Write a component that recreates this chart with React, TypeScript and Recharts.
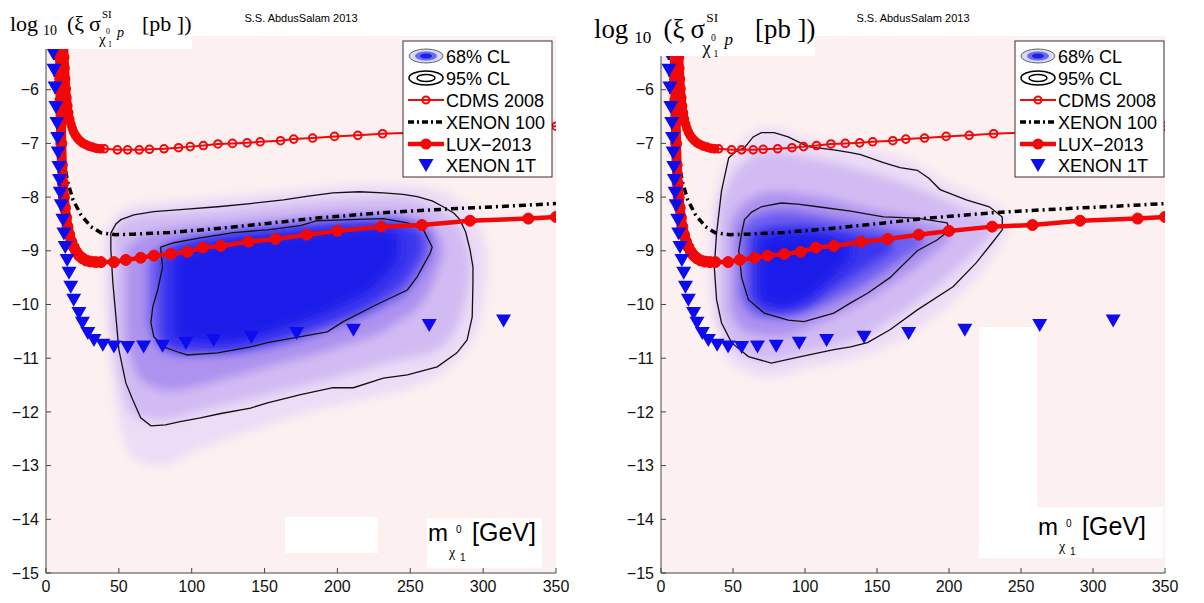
import React from "react"
import {
  Area,
  CartesianGrid,
  ComposedChart,
  Line,
  Scatter,
  XAxis,
  YAxis,
} from "recharts"

type Pt = [number, number]
type Slice = [number, number, number]

const SANS = "'Liberation Sans', Arial, Helvetica, sans-serif"
const SERIF = "'Liberation Serif', 'Times New Roman', serif"
const RED = "#f20808"
const BLUE = "#0c0cef"

const xTicks = [0, 50, 100, 150, 200, 250, 300, 350]
const yTicks = [-15, -14, -13, -12, -11, -10, -9, -8, -7, -6, -5]
const legendLabels = ["68% CL", "95% CL", "CDMS 2008", "XENON 100", "LUX\u22122013", "XENON 1T"]

// [neutralino mass (GeV), log10 sigma_SI (pb)]
const cdms2008: Pt[] = [
  [12.3, -5.0], [12.5, -5.2], [12.8, -5.4], [13.1, -5.6], [13.5, -5.8], [13.9, -5.98],
  [14.4, -6.15], [15.0, -6.3], [15.6, -6.43], [16.3, -6.55], [17.1, -6.64], [18.0, -6.72],
  [19.0, -6.79], [20.2, -6.85], [21.6, -6.9], [23.2, -6.95], [25.0, -6.99], [27.0, -7.02],
  [29.3, -7.05], [31.8, -7.07], [34.5, -7.09], [37.2, -7.1], [40, -7.1], [49, -7.12],
  [56, -7.12], [64, -7.12], [71, -7.11], [81, -7.1], [91, -7.08], [99, -7.06], [108, -7.04],
  [118, -7.01], [128, -7.0], [138, -6.99], [147, -6.97], [161, -6.95], [170, -6.92],
  [183, -6.9], [198, -6.87], [214, -6.85], [231, -6.82], [250, -6.8], [268, -6.78],
  [285, -6.76], [304, -6.74], [325, -6.71], [350, -6.68],
]

const xenon100: Pt[] = [
  [5.5, -5.0], [6.5, -5.8], [8, -6.5], [9.5, -6.95], [11, -7.2], [13, -7.45], [15, -7.73],
  [18.5, -8.05], [24, -8.33], [30.8, -8.55], [37.7, -8.665], [48, -8.7], [60, -8.69],
  [85, -8.66], [120, -8.58], [152, -8.49], [186, -8.39], [231, -8.29], [277, -8.22],
  [323, -8.16], [350, -8.12],
]

const lux2013: Pt[] = [
  [9.6, -5.0], [9.7, -5.4], [9.8, -5.8], [10.0, -6.2], [10.2, -6.6], [10.5, -7.0],
  [10.9, -7.4], [11.6, -7.75], [12.3, -8.0], [13.0, -8.2], [13.8, -8.38], [14.8, -8.55],
  [16.0, -8.7], [17.4, -8.83], [19.0, -8.93], [20.8, -9.02], [22.8, -9.09], [25.0, -9.14],
  [27.5, -9.18], [30.5, -9.2], [34, -9.21], [37.7, -9.21], [46.6, -9.21], [54.8, -9.17],
  [65, -9.13], [74, -9.09], [85.6, -9.06], [97, -9.02], [107.5, -8.94], [120, -8.91],
  [139, -8.83], [157.5, -8.78], [179, -8.7], [200, -8.63], [230, -8.55], [258, -8.52],
  [291, -8.44], [331, -8.4], [350, -8.37],
]

// the steep low-mass parts, where the markers pile into a solid band
const cdmsSteep = cdms2008.slice(0, 23)
const luxSteep = lux2013.slice(0, 22)

const xenon1T: Pt[] = [
  [4.8, -5.31], [5.5, -5.63], [6.2, -5.96], [6.8, -6.32], [7.5, -6.62], [8, -6.9],
  [8.4, -7.17], [8.9, -7.44], [9.3, -7.68], [9.8, -7.92], [10.5, -8.15], [11.6, -8.42],
  [12.3, -8.68], [13.2, -8.93], [14.5, -9.17], [15.8, -9.41], [17, -9.67], [19, -9.91],
  [22.6, -10.16], [25, -10.34], [28.7, -10.53], [32.9, -10.66], [39, -10.75], [46.6, -10.78],
  [56, -10.79], [67, -10.78], [80, -10.77], [96, -10.71], [115, -10.66], [141, -10.6],
  [172, -10.53], [211, -10.47], [263, -10.38], [314, -10.3],
]

// left panel: 95% and 68% CL contours
const c95Left: Pt[] = [
  [44.5, -8.67], [48, -8.5], [51.4, -8.42], [60.3, -8.33], [74, -8.27], [94.5, -8.23],
  [117.8, -8.18], [140.4, -8.12], [163, -8.05], [180, -7.98], [197, -7.92], [215, -7.9],
  [231.5, -7.92], [245, -7.95], [254.8, -7.99], [265, -8.07], [272.6, -8.18], [280, -8.3],
  [284, -8.42], [288, -8.65], [291, -8.98], [293, -9.3], [293, -9.6], [292.5, -10.23],
  [289, -10.66], [282, -10.9], [268.5, -11.16], [248, -11.31], [231.5, -11.37], [211, -11.55],
  [197, -11.55], [174.7, -11.68], [152, -11.83], [140.4, -11.93], [120, -12.03], [106, -12.11],
  [92, -12.18], [82, -12.24], [72, -12.26], [65, -12.11], [59.6, -11.78], [54.8, -11.46],
  [50, -10.84], [48, -10.23], [45.9, -9.6], [44.5, -8.98],
]

const c68Left: Pt[] = [
  [78.8, -8.93], [87.7, -8.85], [106, -8.76], [128.8, -8.66], [152, -8.61], [174.7, -8.53],
  [186, -8.44], [209, -8.42], [231.5, -8.4], [248, -8.48], [259, -8.61], [265, -8.93],
  [263.7, -9.04], [254.8, -9.48], [248, -9.73], [227, -10.0], [204, -10.32], [193, -10.51],
  [174.7, -10.6], [152, -10.71], [140.4, -10.79], [117.8, -10.9], [97, -10.94], [90, -10.88],
  [80.8, -10.79], [74, -10.6], [72, -10.34], [73.3, -10.04], [76.7, -9.73], [80, -9.3],
  [78.8, -8.98],
]

// right panel contours
const c95Right: Pt[] = [
  [37, -9.3], [38.6, -8.67], [42, -7.89], [47, -7.27], [52, -7.15], [58, -7.08],
  [60.7, -6.99], [64, -6.88], [69.7, -6.8], [78.6, -6.8], [88.3, -6.88], [102, -7.06],
  [120, -7.12], [131.7, -7.17], [138.6, -7.21], [154.5, -7.36], [166, -7.45], [178, -7.5],
  [186, -7.65], [193.8, -7.86], [212, -8.05], [228, -8.18], [237, -8.37], [237, -8.61],
  [230, -8.85], [219, -9.22], [202.8, -9.67], [178, -10.1], [159, -10.47], [143.4, -10.71],
  [131.7, -10.79], [120, -10.84], [97, -10.97], [76.6, -11.09], [60.7, -10.97], [49, -10.71],
  [42, -10.34], [38.6, -9.91],
]

const c68Right: Pt[] = [
  [54, -9.0], [56, -8.67], [58, -8.42], [63, -8.28], [69.7, -8.18], [83.4, -8.11],
  [95, -8.13], [109, -8.18], [131.7, -8.26], [154.5, -8.37], [178, -8.39], [198.6, -8.48],
  [200.7, -8.61], [191.7, -8.8], [178, -9.0], [159, -9.5], [143.4, -9.79], [131.7, -9.97],
  [120, -10.16], [99.3, -10.32], [88.3, -10.29], [71.7, -10.16], [60.7, -9.91], [56, -9.5],
]

// posterior density shading, faint -> core: [mass, low, high]
const densityColors = ["#ecdcf6", "#d2bbf3", "#ad92ef", "#6f5ff0", "#3a36ee", "#1e1eea"]

const densityLeft: Slice[][] = [
  [[40, -9.8, -8.7], [45, -11.2, -8.45], [52, -12.4, -8.25], [62, -12.9, -8.15], [78, -13.0, -8.1],
    [100, -12.75, -8.05], [140, -12.35, -7.95], [180, -12.0, -7.85], [220, -11.75, -7.75],
    [255, -11.5, -7.8], [280, -11.1, -8.0], [297, -10.4, -8.5], [303, -9.5, -9.0]],
  [[46, -10.4, -8.75], [52, -11.5, -8.45], [62, -12.1, -8.35], [80, -12.15, -8.3], [110, -11.95, -8.25],
    [150, -11.7, -8.15], [200, -11.35, -8.05], [240, -11.05, -8.0], [268, -10.85, -8.2],
    [284, -10.3, -8.55], [291, -9.5, -9.1]],
  [[55, -10.6, -8.95], [65, -11.4, -8.75], [85, -11.6, -8.6], [120, -11.4, -8.5], [160, -11.1, -8.4],
    [200, -10.8, -8.3], [240, -10.35, -8.3], [262, -9.8, -8.45], [272, -9.1, -8.85]],
  [[70, -10.4, -9.2], [80, -10.85, -8.92], [100, -10.95, -8.76], [130, -10.9, -8.63], [160, -10.75, -8.55],
    [200, -10.4, -8.43], [230, -10.05, -8.4], [250, -9.7, -8.47], [264, -9.1, -8.7]],
  [[78, -10.6, -9.1], [90, -10.85, -8.9], [120, -10.85, -8.72], [160, -10.65, -8.6], [200, -10.3, -8.5],
    [230, -9.9, -8.47], [250, -9.4, -8.55], [258, -9.0, -8.7]],
  [[88, -10.6, -9.1], [120, -10.7, -8.85], [160, -10.45, -8.72], [200, -10.05, -8.62], [228, -9.6, -8.6],
    [242, -9.15, -8.7]],
]

const densityRight: Slice[][] = [
  [[34, -9.7, -8.8], [40, -10.6, -7.8], [52, -11.15, -7.1], [75, -11.35, -6.7], [100, -11.2, -6.9],
    [140, -10.95, -7.1], [170, -10.6, -7.3], [200, -10.0, -7.75], [225, -9.3, -8.05], [242, -8.6, -8.35]],
  [[40, -10.2, -8.2], [52, -10.85, -7.5], [75, -11.05, -7.15], [100, -10.9, -7.25], [140, -10.6, -7.5],
    [175, -10.0, -7.8], [205, -9.35, -8.15], [230, -8.7, -8.45]],
  [[48, -10.1, -8.5], [58, -10.5, -8.1], [80, -10.6, -7.9], [110, -10.35, -8.0], [140, -9.95, -8.2],
    [175, -9.35, -8.4], [200, -8.8, -8.6]],
  [[55, -9.85, -8.6], [65, -10.2, -8.35], [85, -10.25, -8.25], [110, -10.05, -8.35], [140, -9.65, -8.5],
    [165, -9.2, -8.62], [182, -8.9, -8.72]],
  [[62, -9.85, -8.7], [75, -10.15, -8.55], [95, -10.1, -8.52], [118, -9.75, -8.6], [140, -9.35, -8.7],
    [160, -9.0, -8.78]],
  [[68, -9.9, -8.8], [85, -10.05, -8.68], [100, -9.9, -8.68], [118, -9.5, -8.76], [132, -9.1, -8.88]],
]

const toPts = (a: Pt[]) => a.map(([x, y]) => ({ x, y }))
const toBand = (a: Slice[]) => a.map(([x, lo, hi]) => ({ x, band: [lo, hi] }))
// the -5 label sits under the y-axis title box in the figure
const fmtY = (v: number) => (v === -5 ? "" : v < 0 ? "\u2212" + Math.abs(v) : String(v))

function Tri(props: any) {
  const { cx, cy } = props
  if (cx == null || cy == null) return null
  return (
    <polygon
      points={`${cx - 7.5},${cy - 6} ${cx + 7.5},${cy - 6} ${cx},${cy + 7}`}
      fill={BLUE}
    />
  )
}

function Panel({ id, left, plotLeft, plotRight, density, c95, c68 }: any) {
  const tick = { fill: "#111", fontSize: 16, fontFamily: SANS }
  return (
    <div style={{ position: "absolute", left, top: 0 }}>
      <ComposedChart
        width={600}
        height={603}
        margin={{ top: 36, right: 600 - plotRight, bottom: 0, left: plotLeft - 30 }}
      >
        <defs>
          <filter id={`soft-${id}`} x="-50%" y="-50%" width="200%" height="200%">
            <feGaussianBlur stdDeviation="5" />
          </filter>
        </defs>
        <CartesianGrid fill="#fcf0f0" horizontal={false} vertical={false} />
        <XAxis
          type="number"
          dataKey="x"
          domain={[0, 350]}
          ticks={xTicks}
          interval={0}
          allowDataOverflow
          height={30}
          tickSize={-5}
          tickMargin={13}
          stroke="#444"
          tick={tick}
        />
        <XAxis
          xAxisId="top"
          orientation="top"
          type="number"
          domain={[0, 350]}
          ticks={xTicks}
          interval={0}
          height={0}
          tickSize={-5}
          tick={false}
          stroke="#444"
        />
        <YAxis
          type="number"
          dataKey="y"
          domain={[-15, -5]}
          ticks={yTicks}
          interval={0}
          allowDataOverflow
          width={30}
          tickSize={-5}
          tickMargin={12}
          stroke="#444"
          tick={tick}
          tickFormatter={fmtY}
        />
        <YAxis
          yAxisId="right"
          orientation="right"
          type="number"
          domain={[-15, -5]}
          ticks={yTicks}
          interval={0}
          width={0}
          tickSize={-5}
          tick={false}
          stroke="#444"
        />
        {density.map((slices: Slice[], i: number) => (
          <Area
            key={i}
            data={toBand(slices)}
            dataKey="band"
            type="monotone"
            stroke="none"
            fill={densityColors[i]}
            fillOpacity={1}
            filter={`url(#soft-${id})`}
            isAnimationActive={false}
          />
        ))}
        <Line data={toPts(c95)} dataKey="y" type="linearClosed" stroke="#111" strokeWidth={1.3} dot={false} isAnimationActive={false} />
        <Line data={toPts(c68)} dataKey="y" type="linearClosed" stroke="#111" strokeWidth={1.3} dot={false} isAnimationActive={false} />
        <Line data={toPts(cdmsSteep)} dataKey="y" type="linear" stroke={RED} strokeWidth={8} dot={false} isAnimationActive={false} />
        <Line
          data={toPts(cdms2008)}
          dataKey="y"
          type="linear"
          stroke={RED}
          strokeWidth={2}
          dot={{ r: 3.8, fill: "none", stroke: RED, strokeWidth: 2 }}
          isAnimationActive={false}
        />
        <Line
          data={toPts(xenon100)}
          dataKey="y"
          type="linear"
          stroke="#000"
          strokeWidth={3.5}
          strokeDasharray="7 4 2 4"
          dot={false}
          isAnimationActive={false}
        />
        <Line data={toPts(luxSteep)} dataKey="y" type="linear" stroke={RED} strokeWidth={10} dot={false} isAnimationActive={false} />
        <Line
          data={toPts(lux2013)}
          dataKey="y"
          type="linear"
          stroke={RED}
          strokeWidth={4.5}
          dot={{ r: 5.5, fill: RED, stroke: RED, strokeWidth: 1 }}
          isAnimationActive={false}
        />
        <Scatter data={toPts(xenon1T)} shape={Tri} isAnimationActive={false} />
      </ComposedChart>
    </div>
  )
}

function LegendBox({ x }: { x: number }) {
  const rows = [56, 78, 100, 122, 144, 165]
  const cx = x + 23
  return (
    <g>
      <rect x={x} y={41} width={149} height={136} fill="#fff" stroke="#333" strokeWidth={1} />
      <ellipse cx={cx} cy={rows[0]} rx={17} ry={7} fill="#d8d8f6" stroke="#666" strokeWidth={1} />
      <ellipse cx={cx} cy={rows[0]} rx={11} ry={4.5} fill="#6a6af0" />
      <ellipse cx={cx} cy={rows[0]} rx={6} ry={2.5} fill="#2020e0" />
      <ellipse cx={cx} cy={rows[1]} rx={17} ry={7} fill="none" stroke="#000" strokeWidth={1.5} />
      <ellipse cx={cx} cy={rows[1]} rx={9} ry={3.5} fill="none" stroke="#000" strokeWidth={1.5} />
      <line x1={x + 5} x2={x + 41} y1={rows[2]} y2={rows[2]} stroke={RED} strokeWidth={2} />
      <circle cx={cx} cy={rows[2]} r={3.5} fill="none" stroke={RED} strokeWidth={2} />
      <line x1={x + 5} x2={x + 41} y1={rows[3]} y2={rows[3]} stroke="#000" strokeWidth={3.5} strokeDasharray="6 3 2 3" />
      <line x1={x + 5} x2={x + 41} y1={rows[4]} y2={rows[4]} stroke={RED} strokeWidth={4.5} />
      <circle cx={cx} cy={rows[4]} r={5.5} fill={RED} />
      <polygon points={`${cx - 7.5},${rows[5] - 6} ${cx + 7.5},${rows[5] - 6} ${cx},${rows[5] + 7}`} fill={BLUE} />
      {legendLabels.map((t, i) => (
        <text key={t} x={x + 43} y={rows[i] + 6.5} fontSize={18} fontFamily={SANS} fill="#000">
          {t}
        </text>
      ))}
    </g>
  )
}

function YLabel({ x0, s }: { x0: number; s: number }) {
  const X = (d: number) => x0 + d * s
  return (
    <text fontFamily={SERIF} fill="#000" fontSize={22 * s}>
      <tspan x={X(0)} y={31 * s}>log</tspan>
      <tspan x={X(33)} y={35 * s} fontSize={14 * s}>10</tspan>
      <tspan x={X(57)} y={31 * s}>(ξ</tspan>
      <tspan x={X(79)} y={31 * s}>σ</tspan>
      <tspan x={X(92)} y={18 * s} fontSize={11 * s}>SI</tspan>
      <tspan x={X(89)} y={44 * s} fontSize={15 * s}>χ</tspan>
      <tspan x={X(96)} y={34 * s} fontSize={8 * s}>0</tspan>
      <tspan x={X(98)} y={47 * s} fontSize={8 * s}>1</tspan>
      <tspan x={X(107)} y={37 * s} fontSize={14 * s} fontStyle="italic">p</tspan>
      <tspan x={X(132)} y={31 * s}>[pb ])</tspan>
    </text>
  )
}

function XLabel({ x0, base }: { x0: number; base: number }) {
  return (
    <text fontFamily={SANS} fill="#000" fontSize={24}>
      <tspan x={x0} y={base}>m</tspan>
      <tspan x={x0 + 21} y={base + 16} fontSize={14} fontFamily={SERIF}>χ</tspan>
      <tspan x={x0 + 28} y={base - 8} fontSize={10}>0</tspan>
      <tspan x={x0 + 32} y={base + 20} fontSize={10}>1</tspan>
      <tspan x={x0 + 44} y={base} fontSize={25}>[GeV]</tspan>
    </text>
  )
}

export default function App() {
  return (
    <div
      style={{
        position: "absolute",
        left: 0,
        top: 0,
        width: 1204,
        height: 603,
        background: "#fff",
        overflow: "hidden",
      }}
    >
      <Panel id="L" left={0} plotLeft={46} plotRight={556} density={densityLeft} c95={c95Left} c68={c68Left} />
      <Panel id="R" left={604} plotLeft={57} plotRight={561} density={densityRight} c95={c95Right} c68={c68Right} />
      <svg
        width={1204}
        height={603}
        style={{ position: "absolute", left: 0, top: 0, pointerEvents: "none" }}
      >
        {/* white patches present in the original figure */}
        <rect x={285} y={517} width={93} height={36} fill="#fff" />
        <rect x={979} y={327} width={58} height={231} fill="#fff" />
        <rect x={427} y={518} width={115} height={50} fill="#fff" />
        <rect x={1030} y={507} width={133} height={51} fill="#fff" />
        <rect x={0} y={0} width={192} height={49} fill="#fff" />
        <rect x={588} y={0} width={227} height={56} fill="#fff" />

        <text x={301} y={22} textAnchor="middle" fontSize={11} fontFamily={SANS}>S.S. AbdusSalam 2013</text>
        <text x={913} y={22} textAnchor="middle" fontSize={11} fontFamily={SANS}>S.S. AbdusSalam 2013</text>

        <YLabel x0={10} s={1} />
        <YLabel x0={594} s={1.22} />
        <XLabel x0={428} base={541} />
        <XLabel x0={1038} base={535} />

        <LegendBox x={403} />
        <LegendBox x={1015} />
      </svg>
    </div>
  )
}
